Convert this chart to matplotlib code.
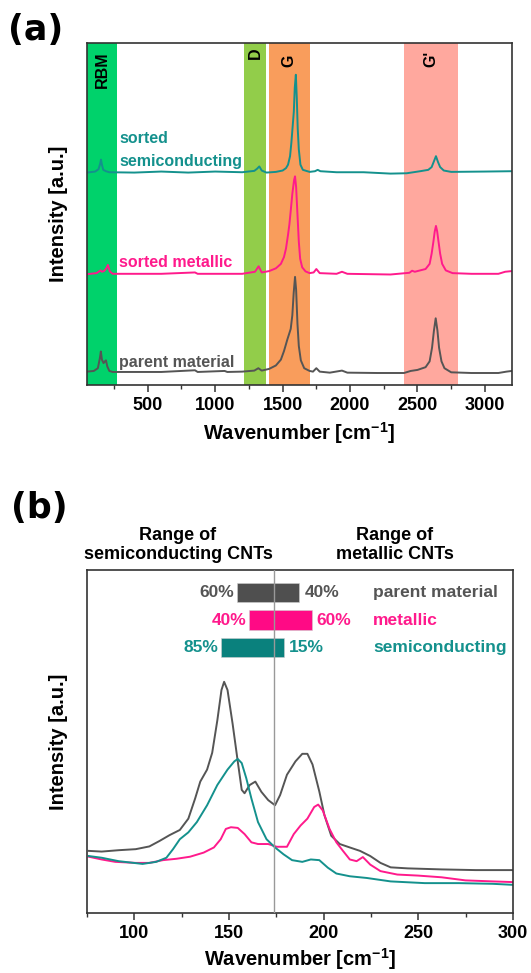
import matplotlib
matplotlib.use("Agg")
import matplotlib.pyplot as plt
from matplotlib.ticker import MultipleLocator
import matplotlib.transforms as mtransforms

plt.rcParams.update({
    "font.family": "Liberation Sans",
    "font.weight": "bold",
    "axes.labelweight": "bold",
    "mathtext.fontset": "custom",
    "mathtext.rm": "Liberation Sans:bold",
    "mathtext.bf": "Liberation Sans:bold",
    "mathtext.default": "rm",
    "axes.edgecolor": "#333333",
    "axes.linewidth": 1.2,
    "xtick.color": "#333333",
    "xtick.labelcolor": "black",
})

GRAY = "#555555"
PINK = "#ff1a8c"
TEAL = "#14918d"

# ---------------- (a) full Raman spectra ----------------
bands = ["RBM", "D", "G", "G'"]
band_lo = [50, 1210, 1400, 2400]
band_hi = [270, 1380, 1700, 2800]
band_colors = ["#00d26b", "#92cd4a", "#f99d5c", "#ffa89e"]

parent_wn = [50, 100, 130, 145, 152, 160, 172, 182, 190, 200, 215, 240, 400, 600, 850, 870,
             1070, 1090, 1200, 1290, 1320, 1345, 1400, 1450, 1487, 1510, 1535, 1548, 1560,
             1572, 1582, 1592, 1600, 1610, 1620, 1635, 1660, 1700, 1725, 1750, 1775, 1850,
             1940, 1980, 2200, 2400, 2450, 2500, 2560, 2590, 2608, 2622, 2635, 2648, 2660,
             2678, 2700, 2750, 2900, 3100, 3160, 3200]
parent_int = [4.0, 4.2, 5.0, 8.0, 9.9, 7.5, 6.5, 7.0, 7.3, 5.5, 4.2, 3.9, 3.9, 3.9, 4.4, 3.9,
              4.2, 3.9, 4.0, 4.3, 5.0, 4.3, 4.8, 5.8, 7.5, 10.0, 13.4, 15.0, 16.5,
              20.5, 27.0, 31.7, 28.0, 18.0, 11.5, 7.3, 5.0, 4.2, 4.0, 5.0, 4.0, 3.7,
              4.3, 3.7, 3.6, 3.6, 4.2, 4.5, 5.3, 7.0, 11.0, 16.0, 19.6, 16.0, 11.0,
              7.0, 5.0, 3.8, 3.6, 3.6, 4.0, 4.2]

metal_wn = [50, 120, 150, 160, 175, 190, 205, 218, 240, 600, 850, 870, 1200, 1295, 1322, 1345,
            1400, 1450, 1487, 1510, 1525, 1540, 1550, 1560, 1572, 1585, 1592, 1600, 1610,
            1620, 1630, 1645, 1670, 1700, 1730, 1750, 1775, 1900, 1940, 1980, 2300, 2440,
            2460, 2480, 2560, 2590, 2605, 2618, 2628, 2637, 2646, 2656, 2668, 2683, 2710,
            2760, 2900, 3100, 3150, 3200]
metal_int = [32.5, 32.8, 33.6, 33.2, 33.4, 34.0, 35.2, 33.3, 32.6, 32.6, 33.0, 32.6, 32.6, 33.2, 34.8, 33.0,
             33.4, 34.2, 35.5, 37.5, 40.0, 44.0, 47.0, 51.0, 56.0, 60.0, 61.1, 58.0, 50.0,
             42.0, 37.0, 34.5, 33.3, 32.8, 33.0, 34.0, 32.8, 32.6, 33.2, 32.6, 32.4, 32.9,
             33.5, 33.2, 34.0, 35.5, 38.5, 42.0, 45.0, 46.6, 45.0, 42.0, 38.5, 35.5, 33.6,
             32.8, 32.6, 32.6, 33.2, 33.4]

semi_wn = [50, 110, 135, 147, 153, 160, 170, 190, 215, 400, 600, 800, 1000, 1200, 1290, 1310,
           1327, 1345, 1380, 1450, 1500, 1525, 1540, 1555, 1565, 1575, 1583, 1590, 1598,
           1605, 1612, 1620, 1632, 1650, 1700, 1740, 1760, 1780, 1900, 2100, 2300, 2420,
           2520, 2580, 2605, 2620, 2637, 2652, 2668, 2695, 2750, 3000, 3200]
semi_int = [62.2, 62.5, 63.2, 64.8, 66.0, 64.5, 63.0, 62.6, 62.3, 62.2, 62.5, 62.2, 62.5, 62.3, 62.7, 63.3,
            64.0, 62.8, 62.2, 62.4, 62.8, 63.5, 64.5, 67.0, 71.0, 76.0, 80.0, 87.0, 90.8,
            84.0, 75.0, 69.0, 64.5, 63.0, 62.4, 62.6, 63.0, 62.6, 62.3, 62.3, 61.9, 62.0,
            62.6, 63.0, 63.8, 65.3, 67.0, 65.3, 63.8, 62.8, 62.4, 62.5, 62.6]

# ---------------- (b) RBM region ----------------
rbm_parent_wn = [75.9, 82.7, 91.7, 100.7, 107.9, 113.3, 118.6, 124.0, 128.5, 132.1, 134.8, 138.4,
                 141.1, 143.8, 146.0, 147.4, 149.2, 151.9, 154.6, 156.7, 158.2, 160.9, 163.9,
                 167.1, 170.7, 174.3, 177.0, 180.6, 185.1, 188.7, 191.4, 194.1, 197.7, 200.4,
                 204.0, 208.5, 213.8, 219.2, 224.6, 230.0, 235.4, 244.4, 262.3, 280.3, 300.0]
rbm_parent_int = [18.1, 17.9, 18.3, 18.6, 19.4, 21.0, 22.7, 24.2, 27.5, 33.4, 38.3, 41.8,
                  46.7, 56.1, 65.0, 67.4, 65.0, 55.1, 44.2, 35.9, 34.9, 37.3, 38.3,
                  35.3, 32.9, 31.4, 34.4, 40.3, 44.2, 46.4, 46.4, 43.3, 35.4, 28.5,
                  22.5, 20.1, 19.1, 18.1, 16.6, 14.6, 13.3, 13.0, 12.7, 12.5, 12.5]

rbm_semi_wn = [75.9, 82.7, 91.7, 104.3, 111.5, 116.9, 120.4, 124.0, 128.5, 133.0, 138.4, 143.8,
               149.2, 152.8, 154.6, 156.7, 159.1, 161.8, 165.3, 169.8, 174.3, 178.8, 183.3,
               188.7, 193.2, 197.7, 202.2, 206.7, 213.8, 222.8, 235.4, 253.4, 271.3, 289.3, 300.0]
rbm_semi_int = [16.6, 16.1, 15.1, 14.3, 14.9, 16.1, 18.6, 21.5, 23.5, 26.5, 31.4, 37.3,
                41.8, 44.2, 44.9, 43.7, 39.3, 33.4, 26.5, 21.5, 19.1, 17.1, 15.4,
                14.9, 15.6, 15.4, 13.2, 11.5, 10.7, 10.2, 9.2, 8.7, 8.7, 8.5, 8.2]

rbm_metal_wn = [75.9, 82.7, 89.9, 100.7, 107.9, 115.1, 122.2, 129.4, 136.6, 142.0, 145.6, 148.3,
                151.0, 154.6, 158.2, 161.8, 165.3, 170.7, 175.2, 180.6, 184.2, 187.8, 191.4,
                195.0, 197.1, 199.5, 203.1, 206.7, 210.2, 213.8, 217.4, 220.7, 224.6, 230.0,
                238.9, 249.8, 262.3, 274.9, 289.3, 300.0]
rbm_metal_int = [16.4, 15.6, 14.9, 14.6, 14.6, 15.4, 15.8, 16.4, 17.6, 19.1, 21.5, 24.5,
                 25.0, 24.8, 23.0, 20.6, 20.1, 20.1, 19.3, 19.3, 23.0, 25.5, 27.5,
                 30.9, 31.6, 29.9, 24.5, 20.6, 18.1, 15.6, 15.1, 16.3, 14.1, 12.2,
                 11.2, 10.9, 10.4, 9.5, 9.2, 9.0]

samples = ["parent material", "metallic", "semiconducting"]
semi_share = [60, 40, 85]
metal_share = [40, 60, 15]
sample_colors = [GRAY, PINK, TEAL]
bar_colors = ["#4f4f4f", "#ff0a85", "#0a817d"]
boundary_wn = 174

fig = plt.figure(figsize=(5.31, 9.73), dpi=100)
ax1 = fig.add_axes([0.164, 0.604, 0.800, 0.3515])
ax2 = fig.add_axes([0.164, 0.0617, 0.802, 0.3525])

# Plot (a)
for lo, hi, c in zip(band_lo, band_hi, band_colors):
    ax1.axvspan(lo, hi, color=c, lw=0, zorder=0)
band_y = [0.975, 0.988, 0.968, 0.978]
for name, lo, hi, yy in zip(bands, band_lo, band_hi, band_y):
    ax1.text((lo + hi) / 2, yy, name, rotation=90, ha="center", va="top", fontsize=11.5,
             transform=mtransforms.blended_transform_factory(ax1.transData, ax1.transAxes))

ax1.plot(parent_wn, parent_int, color=GRAY, lw=1.4)
ax1.plot(metal_wn, metal_int, color=PINK, lw=1.4)
ax1.plot(semi_wn, semi_int, color=TEAL, lw=1.4)

ax1.text(290, 72.2, "sorted", color=TEAL, fontsize=11.5, va="center", ha="left")
ax1.text(290, 65.4, "semiconducting", color=TEAL, fontsize=11.5, va="center", ha="left")
ax1.text(290, 35.9, "sorted metallic", color=PINK, fontsize=11.5, va="center", ha="left")
ax1.text(290, 6.6, "parent material", color=GRAY, fontsize=11.5, va="center", ha="left")

ax1.set_xlim(50, 3200)
ax1.set_ylim(0, 100)
ax1.xaxis.set_major_locator(MultipleLocator(500))
ax1.xaxis.set_minor_locator(MultipleLocator(250))
ax1.set_yticks([])
ax1.tick_params(axis="x", which="major", direction="out", length=5, width=1.1, labelsize=13)
ax1.tick_params(axis="x", which="minor", direction="out", length=3, width=1.0)
ax1.set_xlabel("Wavenumber [cm$^{-1}$]", fontsize=14.5, labelpad=4)
ax1.set_ylabel("Intensity [a.u.]", fontsize=14.5, labelpad=14)

# Plot (b)
ax2.plot(rbm_parent_wn, rbm_parent_int, color=GRAY, lw=1.4)
ax2.plot(rbm_metal_wn, rbm_metal_int, color=PINK, lw=1.4)
ax2.plot(rbm_semi_wn, rbm_semi_int, color=TEAL, lw=1.4)

scale = 0.33  # wavenumber per percent, bar length
for i, (name, s, m, c, bc) in enumerate(zip(samples, semi_share, metal_share, sample_colors, bar_colors)):
    yc = 93.4 - 8.0 * i
    left = boundary_wn - s * scale
    right = boundary_wn + m * scale
    ax2.barh(yc, right - left, left=left, height=5.6, color=bc, edgecolor="#cfcfcf", lw=0.4, zorder=2)
    ax2.text(left - 1.6, yc, f"{s}%", color=c, fontsize=12.5, ha="right", va="center")
    ax2.text(right + 2.6, yc, f"{m}%", color=c, fontsize=12.5, ha="left", va="center")
    ax2.text(226, yc, name, color=c, fontsize=12.5, ha="left", va="center")

ax2.axvline(boundary_wn, color="#999999", lw=1.0, zorder=3)

ax2.text(0.2136, 1.073, "Range of\nsemiconducting CNTs", transform=ax2.transAxes, ha="center",
         va="center", fontsize=13, linespacing=1.2)
ax2.text(0.723, 1.073, "Range of\nmetallic CNTs", transform=ax2.transAxes, ha="center",
         va="center", fontsize=13, linespacing=1.2)

ax2.set_xlim(75, 300)
ax2.set_ylim(0, 100)
ax2.xaxis.set_major_locator(MultipleLocator(50))
ax2.xaxis.set_minor_locator(MultipleLocator(25))
ax2.set_yticks([])
ax2.tick_params(axis="x", which="major", direction="out", length=5, width=1.1, labelsize=13)
ax2.tick_params(axis="x", which="minor", direction="out", length=3, width=1.0)
ax2.set_xlabel("Wavenumber [cm$^{-1}$]", fontsize=14.5, labelpad=3)
ax2.set_ylabel("Intensity [a.u.]", fontsize=14.5, labelpad=14)

fig.text(0.015, 1 - 30 / 973, "(a)", fontsize=25, family="DejaVu Sans", weight="bold", va="center")
fig.text(0.020, 1 - 508 / 973, "(b)", fontsize=25, family="DejaVu Sans", weight="bold", va="center")

fig.savefig("out.png", dpi=100)
